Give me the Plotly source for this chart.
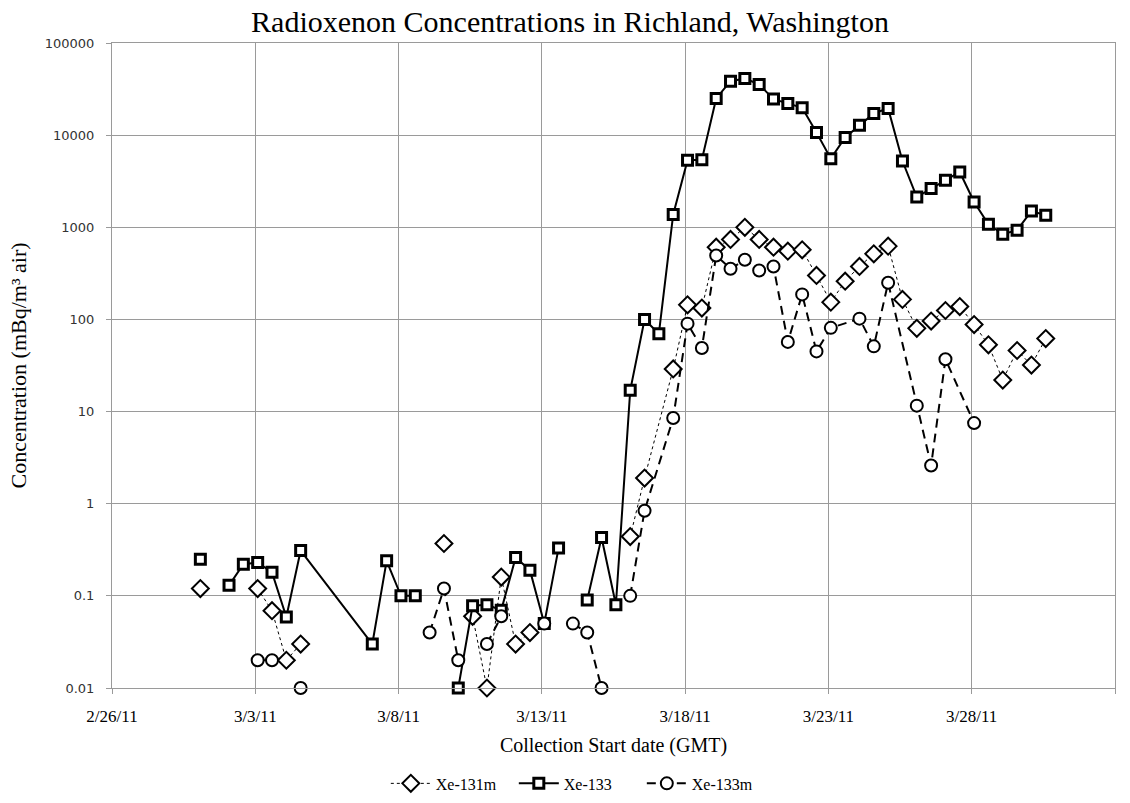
import plotly.graph_objects as go

# Collection start times (GMT), 12-hour samples
collection_start = [
    "2011-03-01 02:00", "2011-03-01 14:00", "2011-03-02 02:00", "2011-03-02 14:00",
    "2011-03-03 02:00", "2011-03-03 14:00", "2011-03-04 02:00", "2011-03-04 14:00",
    "2011-03-05 02:00", "2011-03-05 14:00", "2011-03-06 02:00", "2011-03-06 14:00",
    "2011-03-07 02:00", "2011-03-07 14:00", "2011-03-08 02:00", "2011-03-08 14:00",
    "2011-03-09 02:00", "2011-03-09 14:00", "2011-03-10 02:00", "2011-03-10 14:00",
    "2011-03-11 02:00", "2011-03-11 14:00", "2011-03-12 02:00", "2011-03-12 14:00",
    "2011-03-13 02:00", "2011-03-13 14:00", "2011-03-14 02:00", "2011-03-14 14:00",
    "2011-03-15 02:00", "2011-03-15 14:00", "2011-03-16 02:00", "2011-03-16 14:00",
    "2011-03-17 02:00", "2011-03-17 14:00", "2011-03-18 02:00", "2011-03-18 14:00",
    "2011-03-19 02:00", "2011-03-19 14:00", "2011-03-20 02:00", "2011-03-20 14:00",
    "2011-03-21 02:00", "2011-03-21 14:00", "2011-03-22 02:00", "2011-03-22 14:00",
    "2011-03-23 02:00", "2011-03-23 14:00", "2011-03-24 02:00", "2011-03-24 14:00",
    "2011-03-25 02:00", "2011-03-25 14:00", "2011-03-26 02:00", "2011-03-26 14:00",
    "2011-03-27 02:00", "2011-03-27 14:00", "2011-03-28 02:00", "2011-03-28 14:00",
    "2011-03-29 02:00", "2011-03-29 14:00", "2011-03-30 02:00", "2011-03-30 14:00",
]

N = None
xe131m = [
    0.12, N, N, N, 0.12, 0.069, 0.02, 0.03, N, N, N, N,
    N, N, N, N, N, 0.37, N, 0.06, 0.01, 0.16, 0.03, 0.04,
    N, N, N, N, N, N, 0.44, 1.9, N, 29, 144, 133,
    608, 738, 1000, 738, 608, 551, 570, 300, 154, 260, 376, 515,
    624, 165, 80, 96, 125, 138, 88, 53, 22, 46, 32, 62,
]
xe133 = [
    0.25, N, 0.13, 0.22, 0.23, 0.18, 0.059, 0.31, N, N, N, N,
    0.03, 0.24, 0.10, 0.10, N, N, 0.01, 0.078, 0.08, 0.07, 0.26, 0.19,
    0.05, 0.33, N, 0.09, 0.43, 0.08, 17, 100, 70, 1380, 5330, 5400,
    25000, 38500, 41200, 35500, 24600, 22100, 19800, 10700, 5560, 9440, 12800, 17200,
    19500, 5240, 2130, 2630, 3230, 3980, 1880, 1080, 840, 930, 1500, 1350,
]
xe133m = [
    N, N, N, N, 0.02, 0.02, N, 0.01, N, N, N, N,
    N, N, N, N, 0.04, 0.12, 0.02, N, 0.03, 0.06, N, N,
    0.05, N, 0.05, 0.04, 0.01, N, 0.1, 0.84, N, 8.5, 90, 49,
    494, 355, 444, 340, 376, 57, 187, 45, 81, N, 102, 51,
    250, N, 11.6, 2.6, 37, N, 7.5, N, N, N, N, N,
]

# index ranges joined by a line (gaps inside a run are bridged)
xe131m_runs = [(0, 0), (4, 7), (17, 17), (19, 23), (30, 59)]
xe133_runs = [(0, 0), (2, 15), (18, 25), (27, 59)]
xe133m_runs = [(4, 5), (7, 7), (16, 18), (20, 21), (24, 24), (26, 28), (30, 54)]

y_tick_vals = [0.01, 0.1, 1, 10, 100, 1000, 10000, 100000]
y_tick_text = ["0.01", "0.1", "1", "10", "100", "1000", "10000", "100000"]

SERIF = "Liberation Serif, Times New Roman, serif"

series = [
    ("Xe-131m", xe131m, xe131m_runs,
     dict(color="black", width=1, dash="dot"),
     dict(symbol="diamond", size=13, color="white", line=dict(color="black", width=2))),
    ("Xe-133", xe133, xe133_runs,
     dict(color="black", width=2),
     dict(symbol="square", size=10, color="white", line=dict(color="black", width=3))),
    ("Xe-133m", xe133m, xe133m_runs,
     dict(color="black", width=2, dash="9px,6px"),
     dict(symbol="circle", size=12, color="white", line=dict(color="black", width=2))),
]

fig = go.Figure()
for name, vals, runs, line, marker in series:
    for k, (a, b) in enumerate(runs):
        xs = [collection_start[i] for i in range(a, b + 1) if vals[i] is not None]
        ys = [vals[i] for i in range(a, b + 1) if vals[i] is not None]
        fig.add_trace(go.Scatter(
            x=xs, y=ys, mode="lines+markers", name=name, legendgroup=name,
            showlegend=(k == 0), line=line, marker=marker, cliponaxis=False,
        ))

grid = "#9a9a9a"
fig.update_layout(
    width=1130, height=803,
    margin=dict(l=112, r=15, t=43, b=115, autoexpand=False),
    paper_bgcolor="white", plot_bgcolor="white",
    title=dict(text="Radioxenon Concentrations in Richland, Washington",
               x=(245 + 895) / 2 / 1130, xanchor="center", y=1 - 21 / 803, yanchor="middle",
               font=dict(family=SERIF, size=30, color="black")),
    legend=dict(orientation="h", x=0.273, xanchor="left", y=-0.148, yanchor="middle",
                font=dict(family=SERIF, size=16, color="black"), itemwidth=40,
                entrywidth=73, traceorder="normal"),
    showlegend=True,
)
fig.update_xaxes(
    type="date", range=["2011-02-26", "2011-04-02"],
    tick0="2011-02-26", dtick=5 * 86400000, tickformat="%-m/%-d/%y",
    showgrid=True, gridcolor=grid, gridwidth=1,
    showline=True, linecolor=grid, mirror=True,
    ticks="outside", ticklen=5, tickcolor=grid, ticklabelstandoff=8,
    tickfont=dict(family=SERIF, size=17, color="black"),
    title=dict(text="Collection Start date (GMT)", standoff=12,
               font=dict(family=SERIF, size=20, color="black")),
    zeroline=False,
)
fig.update_yaxes(
    type="log", range=[-2, 5], tickvals=y_tick_vals, ticktext=y_tick_text,
    showgrid=True, gridcolor=grid, gridwidth=1,
    showline=True, linecolor=grid, mirror=True,
    ticks="outside", ticklen=5, tickcolor=grid, ticklabelstandoff=9,
    tickfont=dict(family="DejaVu Sans, sans-serif", size=13, color="#333"),
    title=dict(text="Concentration (mBq/m³ air)", standoff=12,
               font=dict(family=SERIF, size=22, color="black")),
    zeroline=False,
)

fig.write_html("out.html")
